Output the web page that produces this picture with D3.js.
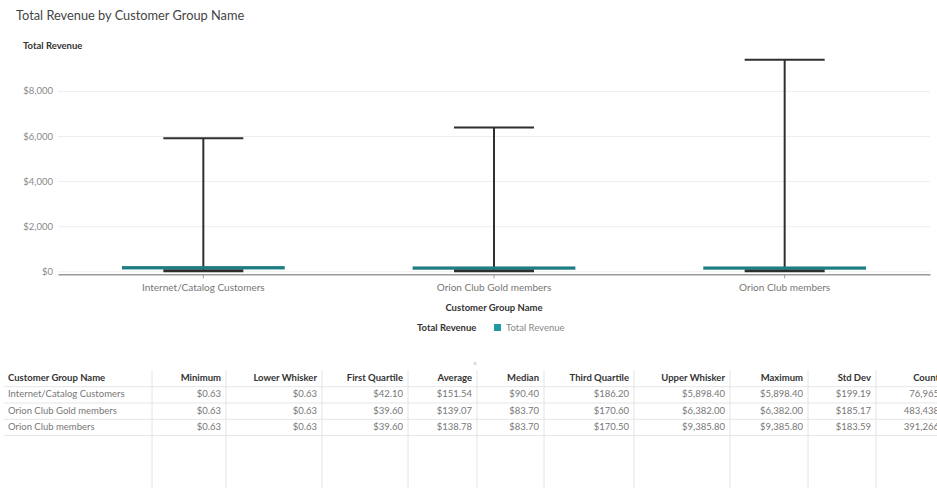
<!DOCTYPE html>
<html>
<head>
<meta charset="utf-8">
<script src="https://cdn.jsdelivr.net/npm/d3@7"></script>
<style>
  body { margin: 0; background: #fff; }
  svg { display: block; font-family: Lato, "Open Sans", sans-serif; }
</style>
</head>
<body>
<svg id="chart" width="937" height="488"></svg>
<script>
// ---- data ----
var categories    = ["Internet/Catalog Customers", "Orion Club Gold members", "Orion Club members"];
var minimum       = [0.63, 0.63, 0.63];
var lowerWhisker  = [0.63, 0.63, 0.63];
var firstQuartile = [42.10, 39.60, 39.60];
var average       = [151.54, 139.07, 138.78];
var median        = [90.40, 83.70, 83.70];
var thirdQuartile = [186.20, 170.60, 170.50];
var upperWhisker  = [5898.40, 6382.00, 9385.80];
var maximum       = [5898.40, 6382.00, 9385.80];
var stdDev        = [199.19, 185.17, 183.59];
var count         = [76965, 483438, 391266];
var yTicks        = [0, 2000, 4000, 6000, 8000];

var tableHeaders = ["Customer Group Name", "Minimum", "Lower Whisker", "First Quartile", "Average",
                    "Median", "Third Quartile", "Upper Whisker", "Maximum", "Std Dev", "Count"];

//Setup chart
var svg = d3.select("#chart");
var teal = "#1f7d83", dark = "#2f2f2f";

var x = d3.scaleBand().domain(categories).range([58, 930]);
var y = d3.scaleLinear().domain([0, 10000]).range([271.3, 45.8]);
var money = d3.format("$,.2f");

svg.append("text").attr("x", 16).attr("y", 20)
  .attr("font-size", 12.8).attr("fill", "#444").text("Total Revenue by Customer Group Name");
svg.append("text").attr("x", 23).attr("y", 49)
  .attr("font-size", 9.5).attr("font-weight", 700).attr("fill", "#333").text("Total Revenue");

//gridlines + y labels
var yAxis = svg.append("g").attr("transform", "translate(58,0)")
  .call(d3.axisLeft(y).tickValues(yTicks).tickSize(-872).tickPadding(5)
        .tickFormat(function(d){ return d3.format("$,")(d); }));
yAxis.select(".domain").remove();
yAxis.selectAll("line").attr("stroke", "#eeeeee");
yAxis.selectAll("text").attr("fill", "#888").attr("font-size", 9.5).attr("font-family", "Lato, sans-serif");

//x axis
var xAxis = svg.append("g").attr("transform", "translate(0," + (y(0) + 3) + ")")
  .call(d3.axisBottom(x).tickSize(4).tickSizeOuter(0).tickPadding(6));
xAxis.select(".domain").attr("stroke", "#999").attr("stroke-width", 1.5);
xAxis.selectAll("line").attr("stroke", "#999");
xAxis.selectAll("text").attr("fill", "#777").attr("font-size", 10).attr("font-family", "Lato, sans-serif");

svg.append("text").attr("x", 494).attr("y", 311).attr("text-anchor", "middle")
  .attr("font-size", 9.5).attr("font-weight", 700).attr("fill", "#333").text("Customer Group Name");

//legend
svg.append("text").attr("x", 417).attr("y", 331)
  .attr("font-size", 9.5).attr("font-weight", 700).attr("fill", "#333").text("Total Revenue");
svg.append("rect").attr("x", 494).attr("y", 324).attr("width", 7).attr("height", 7).attr("fill", "#1f9aa5");
svg.append("text").attr("x", 506).attr("y", 331)
  .attr("font-size", 9.5).attr("fill", "#888").text("Total Revenue");

//boxes: whisker, caps, then the (very flat) teal box on top
var boxW = x.bandwidth() * 0.56, capW = 80;
categories.forEach(function(c, i){
  var cx = x(c) + x.bandwidth() / 2;
  var g = svg.append("g");
  g.append("line").attr("x1", cx).attr("x2", cx)
    .attr("y1", y(upperWhisker[i])).attr("y2", y(lowerWhisker[i]))
    .attr("stroke", dark).attr("stroke-width", 2);
  g.append("line").attr("x1", cx - capW / 2).attr("x2", cx + capW / 2)
    .attr("y1", y(upperWhisker[i])).attr("y2", y(upperWhisker[i]))
    .attr("stroke", dark).attr("stroke-width", 2);
  g.append("line").attr("x1", cx - capW / 2).attr("x2", cx + capW / 2)
    .attr("y1", y(lowerWhisker[i]) - 0.5).attr("y2", y(lowerWhisker[i]) - 0.5)
    .attr("stroke", dark).attr("stroke-width", 3);
  var top = y(thirdQuartile[i]) - 1;
  g.append("rect").attr("x", cx - boxW / 2).attr("width", boxW)
    .attr("y", top).attr("height", 3)
    .attr("fill", teal);
  g.append("line").attr("x1", cx - boxW / 2).attr("x2", cx + boxW / 2)
    .attr("y1", y(median[i])).attr("y2", y(median[i]))
    .attr("stroke", teal).attr("stroke-width", 0.5);
});

//table
var colWidths = [152, 74, 96, 86, 69, 67, 90, 96, 78, 68, 68];
var colEdges = [0];
colWidths.forEach(function(w){ colEdges.push(colEdges[colEdges.length - 1] + w); });
var tableTop = 370, headY = 381, rowH = 16.3;
var rows = categories.map(function(c, i){
  return [c, money(minimum[i]), money(lowerWhisker[i]), money(firstQuartile[i]), money(average[i]),
          money(median[i]), money(thirdQuartile[i]), money(upperWhisker[i]), money(maximum[i]),
          money(stdDev[i]), d3.format(",")(count[i])];
});

var tg = svg.append("g");
colEdges.slice(1, -1).forEach(function(e){
  tg.append("line").attr("x1", e).attr("x2", e).attr("y1", tableTop).attr("y2", 488)
    .attr("stroke", "#e4e4e4");
});
for (var r = 0; r <= rows.length; r++) {
  var ly = 386.7 + r * rowH;
  tg.append("line").attr("x1", 4).attr("x2", 937).attr("y1", ly).attr("y2", ly)
    .attr("stroke", "#e6e6e6");
}
tg.append("text").attr("x", 475).attr("y", 366).attr("text-anchor", "middle")
  .attr("font-size", 6).attr("fill", "#bbb").text("≡");

function cellX(j){ return j === 0 ? 8 : colEdges[j + 1] - 5; }
tableHeaders.forEach(function(h, j){
  tg.append("text").attr("x", cellX(j)).attr("y", headY)
    .attr("text-anchor", j === 0 ? "start" : "end")
    .attr("font-size", 9.5).attr("font-weight", 700).attr("fill", "#333").text(h);
});
rows.forEach(function(row, i){
  row.forEach(function(v, j){
    tg.append("text").attr("x", cellX(j)).attr("y", headY + (i + 1) * rowH)
      .attr("text-anchor", j === 0 ? "start" : "end")
      .attr("font-size", 9.5).attr("fill", "#777").text(v);
  });
});
</script>
</body>
</html>
